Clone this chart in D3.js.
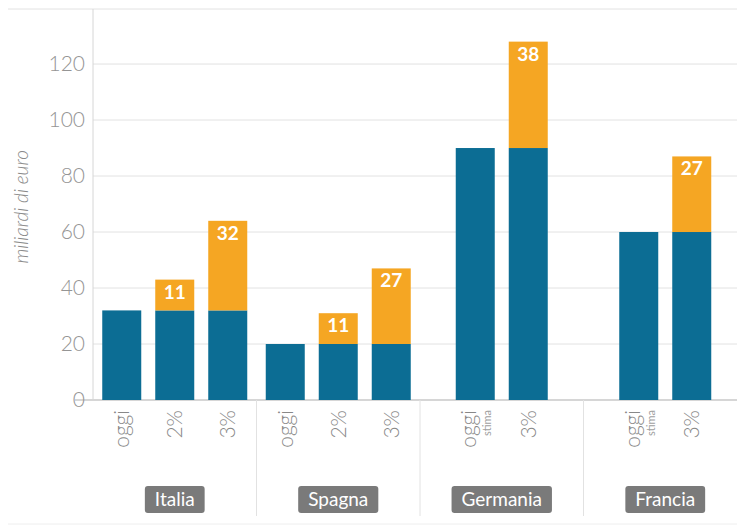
<!DOCTYPE html>
<html>
<head>
<meta charset="utf-8">
<script src="https://cdn.jsdelivr.net/npm/d3@7"></script>
<style>
  body { margin: 0; background: #fff; }
  svg { display: block; font-family: Lato, 'Open Sans', sans-serif; }
</style>
</head>
<body>
<div id="chart"></div>
<script>
// data
const countries = ['Italia', 'Spagna', 'Germania', 'Francia'];
const scenarios = [['oggi', '2%', '3%'], ['oggi', '2%', '3%'], ['oggi', '3%'], ['oggi', '3%']];
const scenarioNotes = [['', '', ''], ['', '', ''], ['stima', ''], ['stima', '']];
const baseSpend = [32, 20, 90, 60];
const extraSpend = [[0, 11, 32], [0, 11, 27], [0, 38], [0, 27]];
const yTicks = [0, 20, 40, 60, 80, 100, 120];
const yTitle = 'miliardi di euro';

// settings
const width = 737;
const height = 532;
const blue = '#0c6d94';
const orange = '#f5a623';
const gridColor = '#e2e2e2';
const step = 53;
const barWidth = 39;

const rows = [];
countries.forEach((c, i) => {
  scenarios[i].forEach((s, j) => {
    rows.push({ country: c, scenario: s, note: scenarioNotes[i][j], idx: j, n: scenarios[i].length,
      base: baseSpend[i], extra: extraSpend[i][j] });
  });
});

const svg = d3.select('#chart').append('svg')
  .attr('width', width)
  .attr('height', height);

const y = d3.scaleLinear().domain([0, 139.3]).range([400, 10]);
const xGroup = d3.scaleBand().domain(countries).range([93, 747]).paddingInner(0);

const barX = d => {
  const center = xGroup(d.country) + xGroup.bandwidth() / 2;
  return center + (d.idx - (d.n - 1) / 2) * step;
};

// top rule
svg.append('line')
  .attr('x1', 8).attr('x2', width)
  .attr('y1', 9).attr('y2', 9)
  .attr('stroke', gridColor);

// grid
svg.append('g')
  .selectAll('line')
  .data(yTicks)
  .join('line')
  .attr('x1', d => d === 0 ? 75 : 93)
  .attr('x2', width)
  .attr('y1', d => y(d)).attr('y2', d => y(d))
  .attr('stroke', d => d === 0 ? '#c8c8c8' : gridColor)
  .attr('stroke-width', d => d === 0 ? 1.5 : 1);

// y axis line
svg.append('line')
  .attr('x1', 93).attr('x2', 93)
  .attr('y1', 9).attr('y2', 400)
  .attr('stroke', '#d6d6d6');

// y tick labels
svg.append('g')
  .selectAll('text')
  .data(yTicks)
  .join('text')
  .attr('x', 85)
  .attr('y', d => y(d) + 7)
  .attr('text-anchor', 'end')
  .attr('font-size', 21)
  .attr('font-weight', 300)
  .attr('fill', '#959595')
  .text(d => d);

svg.append('text')
  .attr('transform', `translate(28, ${y(69)}) rotate(-90)`)
  .attr('text-anchor', 'middle')
  .attr('font-size', 19)
  .attr('font-style', 'italic')
  .attr('font-weight', 300)
  .attr('fill', '#8a8a8a')
  .text(yTitle);

// group separators
svg.append('g')
  .selectAll('line')
  .data(countries.slice(1))
  .join('line')
  .attr('x1', d => xGroup(d)).attr('x2', d => xGroup(d))
  .attr('y1', 400).attr('y2', 516)
  .attr('stroke', gridColor);

svg.append('line')
  .attr('x1', 8).attr('x2', width)
  .attr('y1', 524).attr('y2', 524)
  .attr('stroke', '#eeeeee');

// bars
const bars = svg.append('g');
bars.selectAll('rect.base')
  .data(rows)
  .join('rect')
  .attr('class', 'base')
  .attr('x', d => barX(d) - barWidth / 2)
  .attr('width', barWidth)
  .attr('y', d => y(d.base))
  .attr('height', d => y(0) - y(d.base))
  .attr('fill', blue);

const extras = rows.filter(d => d.extra > 0);
bars.selectAll('rect.extra')
  .data(extras)
  .join('rect')
  .attr('class', 'extra')
  .attr('x', d => barX(d) - barWidth / 2)
  .attr('width', barWidth)
  .attr('y', d => y(d.base + d.extra))
  .attr('height', d => y(d.base) - y(d.base + d.extra))
  .attr('fill', orange);

bars.selectAll('text.val')
  .data(extras)
  .join('text')
  .attr('class', 'val')
  .attr('x', d => barX(d))
  .attr('y', d => y(d.base + d.extra) + 19)
  .attr('text-anchor', 'middle')
  .attr('font-size', 19)
  .attr('font-weight', 700)
  .attr('fill', '#fff')
  .text(d => d.extra);

// x tick labels
const ticks = svg.append('g')
  .selectAll('g')
  .data(rows)
  .join('g')
  .attr('transform', d => `translate(${barX(d)}, 410) rotate(-90)`);

ticks.append('text')
  .attr('text-anchor', 'end')
  .attr('dy', d => d.note ? '0.05em' : '0.35em')
  .attr('font-size', 21)
  .attr('font-weight', 300)
  .attr('fill', '#888')
  .text(d => d.scenario);

ticks.filter(d => d.note)
  .append('text')
  .attr('text-anchor', 'end')
  .attr('dy', '1.45em')
  .attr('font-size', 11)
  .attr('fill', '#a0a0a0')
  .text(d => d.note);

// country labels
const labels = svg.append('g')
  .selectAll('g')
  .data(countries)
  .join('g')
  .attr('transform', d => `translate(${xGroup(d) + xGroup.bandwidth() / 2}, 499)`);

labels.append('text')
  .attr('text-anchor', 'middle')
  .attr('dy', '0.35em')
  .attr('font-size', 19)
  .attr('fill', '#fff')
  .text(d => d)
  .each(function () {
    const b = this.getBBox();
    d3.select(this.parentNode).insert('rect', 'text')
      .attr('x', b.x - 10)
      .attr('y', -13)
      .attr('width', b.width + 20)
      .attr('height', 27)
      .attr('rx', 3)
      .attr('fill', '#7a7a7a');
  });
</script>
</body>
</html>
